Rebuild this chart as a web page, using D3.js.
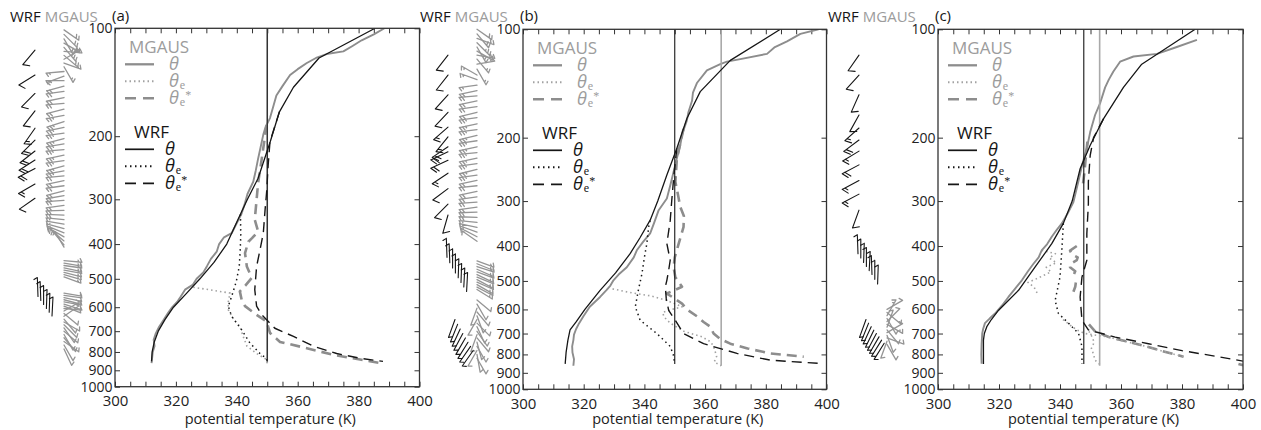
<!DOCTYPE html>
<html>
<head>
<meta charset="utf-8">
<script src="https://cdn.jsdelivr.net/npm/d3@7"></script>
<style>
  html, body { margin: 0; background: #fff; }
  svg text { font-family: "Open Sans", sans-serif; }
</style>
</head>
<body>
<svg id="chart" width="1261" height="430"></svg>
<script>
// ---------- axes ----------
const tempTicks = [300, 320, 340, 360, 380, 400];
const pressTicks = [100, 200, 300, 400, 500, 600, 700, 800, 900, 1000];
const panelLabels = ["(a)", "(b)", "(c)"];

// ---------- profiles: [pressure hPa, theta K] ----------
// (a)
const aWrfTheta = [[100,385.4],[121,367],[146,358.6],[171,354],[207,351],[262,347],[300,343.5],[340,340.5],[400,336.7],[450,332.5],[500,327.9],[550,323.4],[600,319.2],[650,316.4],[700,314.2],[750,312.9],[800,312.2],[850,312]];
const aWrfThetaE = [[330,341.2],[380,341.3],[420,341.1],[462,340.8],[510,339.8],[560,338.3],[596,337.2],[636,338.3],[694,341.6],[755,344.3],[808,347.6],[832,349.6],[850,350]];
const aWrfThetaES = [[171,354],[207,350.9],[241,350.3],[286,349.8],[320,349.3],[373,348.7],[420,347.5],[462,346.5],[536,345.9],[596,346.5],[630,348.2],[650,349.8],[687,352.5],[724,358.6],[770,365],[808,372.8],[833,380.5],[850,388]];
const aMgTheta = [[100,388.5],[104,385],[108,381],[112,378],[116,375],[118,369.5],[121,366],[125,363],[130,360],[135,357.5],[145,355],[154,353],[165,352],[178,350.9],[188,349.5],[198,348.7],[215,347.8],[231,347],[250,346.2],[268,345.4],[290,343.5],[311,342.5],[330,341.5],[355,339.6],[373,338.3],[383,335.8],[400,334.2],[420,333.4],[440,331.5],[461,330.2],[480,329],[500,326.8],[520,325.5],[536,323],[560,321.6],[580,320.4],[600,318.8],[621,317.5],[650,316],[680,314.5],[710,313.4],[740,312.7],[770,313],[800,312.4],[830,312.2],[860,312]];
const aMgThetaE = [[528,325.7],[538,332],[548,337.8],[580,337.2],[610,337.2],[650,339],[678,341],[720,342],[770,343.3],[808,346.5],[840,349.8],[860,350]];
const aMgThetaES = [[186,349.8],[231,348.2],[270,347],[301,346.5],[342,345.9],[369,347],[385,345],[394,343.8],[424,342.7],[462,343.3],[497,344.9],[520,343],[542,341],[572,341.6],[596,342.7],[630,346.5],[658,349.8],[708,350.9],[750,354.2],[781,363],[815,371.7],[840,380.5],[859,387]];

// (b)
const bWrfTheta = [[100,384.8],[122,368.3],[149,358.4],[177,354],[214,350.7],[254,347.4],[300,344.4],[339,341.9],[380,338.5],[420,335.3],[475,330.5],[531,325.4],[600,320.4],[650,317.5],[684,315.5],[730,314.8],[790,314.2],[850,313.9]];
const bWrfThetaE = [[340,341.9],[354,341.4],[394,340.8],[430,340],[477,339.2],[531,338],[590,337],[643,338.6],[700,344.1],[760,348.5],[800,349.5],[850,350]];
const bWrfThetaES = [[214,350.7],[250,349.8],[300,349],[340,348.5],[394,347.4],[438,348.5],[467,348],[498,347.4],[519,346.9],[560,347.2],[604,348],[643,350.2],[700,352.9],[747,359.5],[795,370.5],[830,381.5],[849,399]];
const bMgTheta = [[100,397.4],[103,391.4],[108,387],[112,383],[117,380.4],[121,371.6],[123,367.2],[125,365],[130,360.6],[141,357.3],[150,356],[158,355.7],[170,354.5],[179,354],[195,352.5],[210,351.8],[230,350.6],[249,349.6],[270,348.6],[295,347.4],[318,344.7],[345,343.2],[369,341.9],[390,339.5],[411,337.5],[430,336.5],[458,334.2],[480,331.5],[498,329.8],[515,328.8],[530,327.5],[554,325.4],[590,322],[627,319.9],[655,318.5],[680,317.5],[705,316.8],[730,316.6],[760,316.2],[790,316.3],[825,316.8],[860,316.6]];
const bMgThetaE = [[526,329.5],[540,336],[550,342],[565,347],[590,352.5],[600,349],[612,346],[630,346.5],[655,348.5],[690,353],[715,359],[740,362],[770,363],[810,363.8],[840,363],[860,365.3]];
const bMgThetaES = [[189,352.9],[229,350.7],[265,350.2],[295,351.3],[311,351.8],[330,353],[354,352.9],[394,351.3],[430,350],[458,349.6],[488,350.2],[519,352.4],[530,350],[542,347.4],[560,350],[578,352.4],[600,354],[627,357.3],[650,359.5],[670,361.7],[700,362.8],[725,365],[747,368.3],[770,374],[795,381.5],[812,392.5]];

// (c)
const cWrfTheta = [[100,384.3],[125,366.8],[145,360.8],[177,354.3],[210,349.9],[244,346.6],[300,344],[346,341.1],[394,337.3],[458,331.8],[531,326.4],[604,319.8],[640,317.5],[670,316],[700,315.2],[730,314.9],[850,314.9]];
const cWrfThetaE = [[346,341.1],[411,340.6],[488,340],[567,338.4],[616,339.5],[655,342.8],[700,346.1],[760,347.2],[850,347.2]];
const cWrfThetaES = [[177,354.3],[200,351],[224,349.9],[265,349.3],[306,349.3],[369,348.8],[438,348.8],[488,347.2],[554,346.6],[643,347.2],[684,349.3],[716,358.1],[747,369],[781,380],[812,392],[835,400]];
const cMgTheta = [[107,384.9],[112,378.3],[117,371.8],[119,364.1],[123,359.7],[131,357.5],[138,356],[145,354.8],[160,353.2],[173,351.5],[193,349.9],[214,348.8],[239,347.2],[265,346],[302,344.4],[325,342.5],[346,340.6],[360,339],[377,337.3],[395,335.8],[411,334],[430,333],[448,331.3],[470,329.5],[498,327.5],[525,325.3],[554,323.1],[585,321],[616,318.7],[635,317],[655,315.4],[680,314.8],[700,314.5],[747,314.3],[800,314.2],[849,314.3]];
const cMgThetaE = [[411,334],[420,338.5],[432,336.5],[445,338.8],[458,335.5],[472,337],[490,333],[505,329.5],[520,331.5],[540,332.5], null,
                   [640,341],[655,342.5],[670,344],[684,345.5],[700,348.2],[716,355.9],[735,361],[755,366.9],[785,374],[812,380.5], null,
                   [690,349.5],[715,350.5],[740,351.2],[770,350.3],[800,351],[830,351.5],[860,353.5]];
const cMgThetaES = [[205,349],[225,348.5],[250,348],[270,347.5], null,
                    [400,345.5],[412,343.3],[422,343.9],[430,345.8],[438,345.5],[448,343.5],[458,343.3],[470,345],[483,344.4], null,
                    [505,345.2],[519,345],[536,344.4], null,
                    [660,349.5],[675,350.5],[690,351.5],[716,356],[755,367],[785,374],[812,380.5], null,
                    [850,398.5],[862,401]];

// surface-parcel reference values (K), one per panel
const parcelWrf = [350, 350, 347.8];
const parcelMg  = [350, 365.3, 353];

// ---------- winds: [pressure hPa, direction deg, speed kt] ----------
const aWrfBarbs = [[115,220,10],[135,238,10],[152,225,10],[170,218,10],[190,215,15],[205,225,20],[220,232,20],[233,237,20],[246,242,20],[272,240,15],[298,235,10]];
const aWrfBarbsLow = [[560,358,10],[575,358,10],[590,0,10],[605,2,10],[620,2,10],[635,3,10]];
const aMgBarbs = [[101,125,20],[104,135,20],[107,150,20],[110,120,20],[113,140,25],[116,95,25],[119,130,20],[122,60,15],[125,110,15],[128,150,15],
  [132,265,15],[136,250,15],[140,270,15],[145,255,20],[150,262,20],[156,258,20],[162,265,20],[168,255,20],[175,260,25],[182,252,25],[189,258,25],[196,262,25],[203,255,25],[210,260,25],[218,265,25],[226,258,25],[234,262,25],[242,255,25],[250,260,25],[258,264,20],[266,258,20],[275,262,20],[284,255,20],[293,260,20],[302,266,20],[312,262,20],[322,268,20],[332,272,20],[342,276,15],[352,280,15],[362,285,15],[372,292,15],[382,300,10],[392,310,10],[402,320,10],[408,330,10],
  [445,95,15],[452,100,15],[459,98,15],[466,102,15],[473,100,15],[480,104,15],[487,106,15],[494,110,15],
  [548,100,10],[556,98,10],[564,102,10],[572,105,10],[580,100,10],[588,108,10],[596,112,10],[605,95,10],[615,60,10],[625,130,10],[636,55,10],[648,140,10],[660,120,10],[672,135,10],[685,145,10],[700,130,10],[715,150,10],[730,140,10],[748,125,10],[765,150,10],[785,155,10]];

const bWrfBarbs = [[118,218,10],[134,218,10],[152,222,10],[170,223,10],[187,229,15],[199,219,15],[212,236,20],[219,245,20],[231,245,20],[251,236,15],[277,233,10],[306,225,10],[328,196,10]];
const bWrfBarbsLow = [[430,358,10],[445,358,10],[460,0,10],[475,0,10],[490,2,10],[505,2,10],[520,3,10],[535,3,10]];
const bWrfBarbsSfc = [[640,200,10],[660,202,10],[680,205,10],[700,208,10],[720,210,10],[740,212,10],[760,215,10],[780,215,10]];
const bMgBarbs = [[100,125,20],[103,140,20],[106,110,20],[109,135,25],[112,150,25],[115,120,20],[118,100,20],[121,140,15],[125,80,15],[129,150,15],[134,300,15],[138,290,15],
  [143,262,15],[148,258,20],[153,265,20],[158,258,20],[164,262,20],[170,256,20],[176,262,25],[183,258,25],[190,263,25],[197,256,25],[204,262,25],[212,258,25],[220,264,25],[228,258,25],[236,262,25],[245,256,25],[254,262,25],[263,258,20],[272,264,20],[282,258,20],[292,262,20],[302,266,20],[312,262,20],[322,268,20],[333,272,20],[344,276,15],[355,282,15],[366,290,15],[377,298,15],[388,305,10],
  [440,110,15],[448,112,15],[456,108,15],[464,114,15],[472,110,15],[480,116,15],[488,112,15],[496,118,15],[504,114,15],[512,120,15],[520,118,15],[528,122,15],
  [565,130,10],[580,150,10],[595,200,10],[610,140,10],[625,160,10],[640,210,10],[655,135,10],[670,155,10],[690,145,10],[705,200,10],[720,140,10],[740,165,10],[760,150,10],[780,210,10],[800,170,10],[820,150,10]];

const cWrfBarbs = [[118,215,10],[134,222,10],[152,204,10],[173,209,10],[188,228,15],[203,233,20],[218,239,15],[238,242,20],[263,242,15],[287,242,15],[318,200,10]];
const cWrfBarbsLow = [[420,358,10],[432,0,10],[444,2,10],[456,0,10],[468,3,10],[480,358,10],[495,0,10],[510,2,10]];
const cWrfBarbsSfc = [[640,200,10],[655,202,10],[670,205,10],[685,206,10],[700,208,10],[715,210,10],[730,212,10],[745,212,10]];
const cMgBarbs = [[600,60,10],[612,130,10],[624,30,15],[636,150,10],[648,45,10],[660,120,15],[672,20,10],[684,140,10],[696,60,10],[708,160,10],[720,110,10],[735,200,10],[750,150,10]];

// ---------- styles ----------
const BLACK = "#161616", GREY = "#8d8d8d", GREY_TXT = "#9c9c9c", FRAME = "#333";
const styles = {
  wrfTheta:   {stroke: BLACK, width: 1.3, dash: null},
  wrfThetaE:  {stroke: BLACK, width: 1.5, dash: "1.5,3.5"},
  wrfThetaES: {stroke: BLACK, width: 1.4, dash: "10,6"},
  mgTheta:    {stroke: GREY,  width: 1.9, dash: null},
  mgThetaE:   {stroke: "#a2a2a2", width: 1.6, dash: "1.5,3"},
  mgThetaES:  {stroke: GREY,  width: 2.6, dash: "10,6"}
};

// ---------- panel layout ----------
const panels = [
  {key: "a", x0: 115, x1: 419.5, y0: 28.3, y1: 386.7, hdrX: 10, wrfBarbX: 35, lowBarbX: 38, mgBarbX: 64,
   wrfTheta: aWrfTheta, wrfThetaE: aWrfThetaE, wrfThetaES: aWrfThetaES,
   mgTheta: aMgTheta, mgThetaE: aMgThetaE, mgThetaES: aMgThetaES,
   wrfBarbs: aWrfBarbs, wrfLow: aWrfBarbsLow, wrfSfc: [], mgBarbs: aMgBarbs},
  {key: "b", x0: 523, x1: 826.5, y0: 29.3, y1: 389.3, hdrX: 420, wrfBarbX: 448, lowBarbX: 447, mgBarbX: 477,
   wrfTheta: bWrfTheta, wrfThetaE: bWrfThetaE, wrfThetaES: bWrfThetaES,
   mgTheta: bMgTheta, mgThetaE: bMgThetaE, mgThetaES: bMgThetaES,
   wrfBarbs: bWrfBarbs, wrfLow: bWrfBarbsLow, wrfSfc: bWrfBarbsSfc, mgBarbs: bMgBarbs},
  {key: "c", x0: 938, x1: 1243, y0: 29.3, y1: 389.3, hdrX: 828, wrfBarbX: 859, lowBarbX: 858, mgBarbX: 887,
   wrfTheta: cWrfTheta, wrfThetaE: cWrfThetaE, wrfThetaES: cWrfThetaES,
   mgTheta: cMgTheta, mgThetaE: cMgThetaE, mgThetaES: cMgThetaES,
   wrfBarbs: cWrfBarbs, wrfLow: cWrfBarbsLow, wrfSfc: cWrfBarbsSfc, mgBarbs: cMgBarbs}
];

const svg = d3.select("#chart");
const defs = svg.append("defs");

// wind barb: staff points toward where the wind blows from, feathers at the outer end
function barb(g, bx, by, dir, spd, len, fl, color, w) {
  const phi = (dir - 90) * Math.PI / 180;
  const ux = Math.cos(phi), uy = Math.sin(phi);
  const tx = bx + len * ux, ty = by + len * uy;
  const fa = phi - 120 * Math.PI / 180;
  let d = `M${bx},${by}L${tx},${ty}`;
  const full = Math.floor(spd / 10), half = (spd % 10) >= 5;
  let k = 0;
  for (; k < full; k++) {
    const sx = tx - k * 3 * ux, sy = ty - k * 3 * uy;
    d += `M${sx},${sy}L${sx + fl * Math.cos(fa)},${sy + fl * Math.sin(fa)}`;
  }
  if (half) {
    const sx = tx - k * 3 * ux, sy = ty - k * 3 * uy;
    d += `M${sx},${sy}L${sx + fl * 0.5 * Math.cos(fa)},${sy + fl * 0.5 * Math.sin(fa)}`;
  }
  g.append("path").attr("d", d).attr("fill", "none").attr("stroke", color)
    .attr("stroke-width", w).attr("stroke-linecap", "round");
}

// θ with optional subscript e and star
function thetaText(g, x, y, sub, star, color) {
  const t = g.append("text").attr("x", x).attr("y", y).attr("fill", color);
  t.append("tspan").attr("font-style", "italic").attr("font-size", 18).text("θ");
  if (sub) t.append("tspan").attr("font-family", "'Liberation Serif', serif").attr("font-size", 12).attr("dx", 1).attr("dy", 2).text("e");
  if (star) t.append("tspan").attr("font-family", "'Liberation Serif', serif").attr("font-size", 12).attr("dy", -7).text("*");
}

function drawPanel(P, idx) {
  const g = svg.append("g");
  const x = d3.scaleLinear().domain([300, 400]).range([P.x0, P.x1]);
  const y = d3.scaleLog().domain([100, 1000]).range([P.y0, P.y1]);

  const clipId = "clip-" + P.key;
  defs.append("clipPath").attr("id", clipId).append("rect")
    .attr("x", P.x0).attr("y", P.y0).attr("width", P.x1 - P.x0).attr("height", P.y1 - P.y0);

  // inward tick marks on all four sides
  const minor = d3.range(300, 401, 5);
  const tickStyle = s => { s.select(".domain").remove(); s.selectAll(".tick line").attr("stroke", FRAME).attr("stroke-width", 1); };
  g.append("g").attr("transform", `translate(0,${P.y1})`)
    .call(d3.axisBottom(x).tickValues(minor).tickSize(-5).tickFormat("")).call(tickStyle);
  g.append("g").attr("transform", `translate(0,${P.y0})`)
    .call(d3.axisTop(x).tickValues(minor).tickSize(-5).tickFormat("")).call(tickStyle);
  g.append("g").attr("transform", `translate(${P.x0},0)`)
    .call(d3.axisLeft(y).tickValues(pressTicks).tickSize(-5).tickFormat("")).call(tickStyle);
  g.append("g").attr("transform", `translate(${P.x1},0)`)
    .call(d3.axisRight(y).tickValues(pressTicks).tickSize(-5).tickFormat("")).call(tickStyle);

  // tick labels
  const xl = g.append("g").attr("transform", `translate(0,${P.y1})`)
    .call(d3.axisBottom(x).tickValues(tempTicks).tickSize(0).tickPadding(9).tickFormat(d3.format("d")));
  xl.select(".domain").remove();
  xl.selectAll("text").attr("font-size", 15).attr("fill", "#222").attr("font-family", '"Open Sans", sans-serif');
  const yl = g.append("g").attr("transform", `translate(${P.x0},0)`)
    .call(d3.axisLeft(y).tickValues(pressTicks).tickSize(0).tickPadding(2.5).tickFormat(d3.format("d")));
  yl.select(".domain").remove();
  yl.selectAll("text").attr("font-size", 14).attr("fill", "#222").attr("font-family", '"Open Sans", sans-serif');

  g.append("text").attr("x", (P.x0 + P.x1) / 2 + 3).attr("y", 424)
    .attr("text-anchor", "middle").attr("font-size", 14.5).attr("fill", "#222")
    .text("potential temperature (K)");

  // profiles
  const line = d3.line().defined(d => d != null).x(d => x(d[1])).y(d => y(d[0]));
  const plot = g.append("g").attr("clip-path", `url(#${clipId})`);
  const draw = (data, st) => plot.append("path").datum(data).attr("d", line)
    .attr("fill", "none").attr("stroke", st.stroke).attr("stroke-width", st.width)
    .attr("stroke-dasharray", st.dash).attr("stroke-linejoin", "round");

  draw(P.mgThetaES, styles.mgThetaES);
  draw(P.mgThetaE, styles.mgThetaE);
  draw(P.mgTheta, styles.mgTheta);

  // surface parcel verticals
  plot.append("line").attr("x1", x(parcelMg[idx])).attr("x2", x(parcelMg[idx]))
    .attr("y1", y(100)).attr("y2", y(860)).attr("stroke", "#a9a9a9").attr("stroke-width", 1.6);
  plot.append("line").attr("x1", x(parcelWrf[idx])).attr("x2", x(parcelWrf[idx]))
    .attr("y1", y(100)).attr("y2", y(850)).attr("stroke", BLACK).attr("stroke-width", 1.1);

  draw(P.wrfThetaES, styles.wrfThetaES);
  draw(P.wrfThetaE, styles.wrfThetaE);
  draw(P.wrfTheta, styles.wrfTheta);

  // frame
  g.append("rect").attr("x", P.x0).attr("y", P.y0).attr("width", P.x1 - P.x0).attr("height", P.y1 - P.y0)
    .attr("fill", "none").attr("stroke", FRAME).attr("stroke-width", 1.3);

  // legend
  const lg = g.append("g");
  const row = (dy, st, sub, star, color, tx) => {
    const yy = P.y0 + dy;
    lg.append("line").attr("x1", P.x0 + 10).attr("x2", P.x0 + 39).attr("y1", yy).attr("y2", yy)
      .attr("stroke", st.stroke).attr("stroke-width", Math.min(st.width + 0.4, 2.6))
      .attr("stroke-dasharray", st.dash === "10,6" ? "11,7" : st.dash);
    thetaText(lg, P.x0 + tx, yy + 6, sub, star, color);
  };
  lg.append("text").attr("x", P.x0 + 14).attr("y", P.y0 + 25).attr("font-size", 17).attr("fill", GREY_TXT).text("MGAUS");
  row(36, styles.mgTheta, false, false, GREY_TXT, 54);
  row(53, styles.mgThetaE, true, false, GREY_TXT, 54);
  row(70, styles.mgThetaES, true, true, GREY_TXT, 54);
  lg.append("text").attr("x", P.x0 + 19).attr("y", P.y0 + 110).attr("font-size", 17).attr("fill", BLACK).text("WRF");
  row(121, styles.wrfTheta, false, false, BLACK, 50);
  row(138, styles.wrfThetaE, true, false, BLACK, 50);
  row(155, styles.wrfThetaES, true, true, BLACK, 50);

  // header
  const hdr = svg.append("text").attr("x", P.hdrX).attr("y", 22).attr("font-size", 15);
  hdr.append("tspan").attr("fill", BLACK).text("WRF ");
  hdr.append("tspan").attr("fill", GREY_TXT).text("MGAUS");
  svg.append("text").attr("x", P.x0 - 3).attr("y", 21).attr("font-size", 15).attr("fill", BLACK).text(panelLabels[idx]);

  // wind barbs
  const bg = svg.append("g");
  P.mgBarbs.forEach(d => barb(bg, P.mgBarbX, y(d[0]), d[1], d[2], 18, 4, "#959595", 1.3));
  P.wrfBarbs.forEach(d => barb(bg, P.wrfBarbX, y(d[0]), d[1], d[2], 19, 7, BLACK, 1.1));
  P.wrfLow.forEach((d, i) => barb(bg, P.lowBarbX + i * 2.8, y(d[0]), d[1], d[2], 19, 4, BLACK, 1.1));
  P.wrfSfc.forEach((d, i) => barb(bg, P.lowBarbX + 8 + i * 2.6, y(d[0]), d[1], d[2], 19, 4, BLACK, 1.1));
}

panels.forEach(drawPanel);
</script>
</body>
</html>
